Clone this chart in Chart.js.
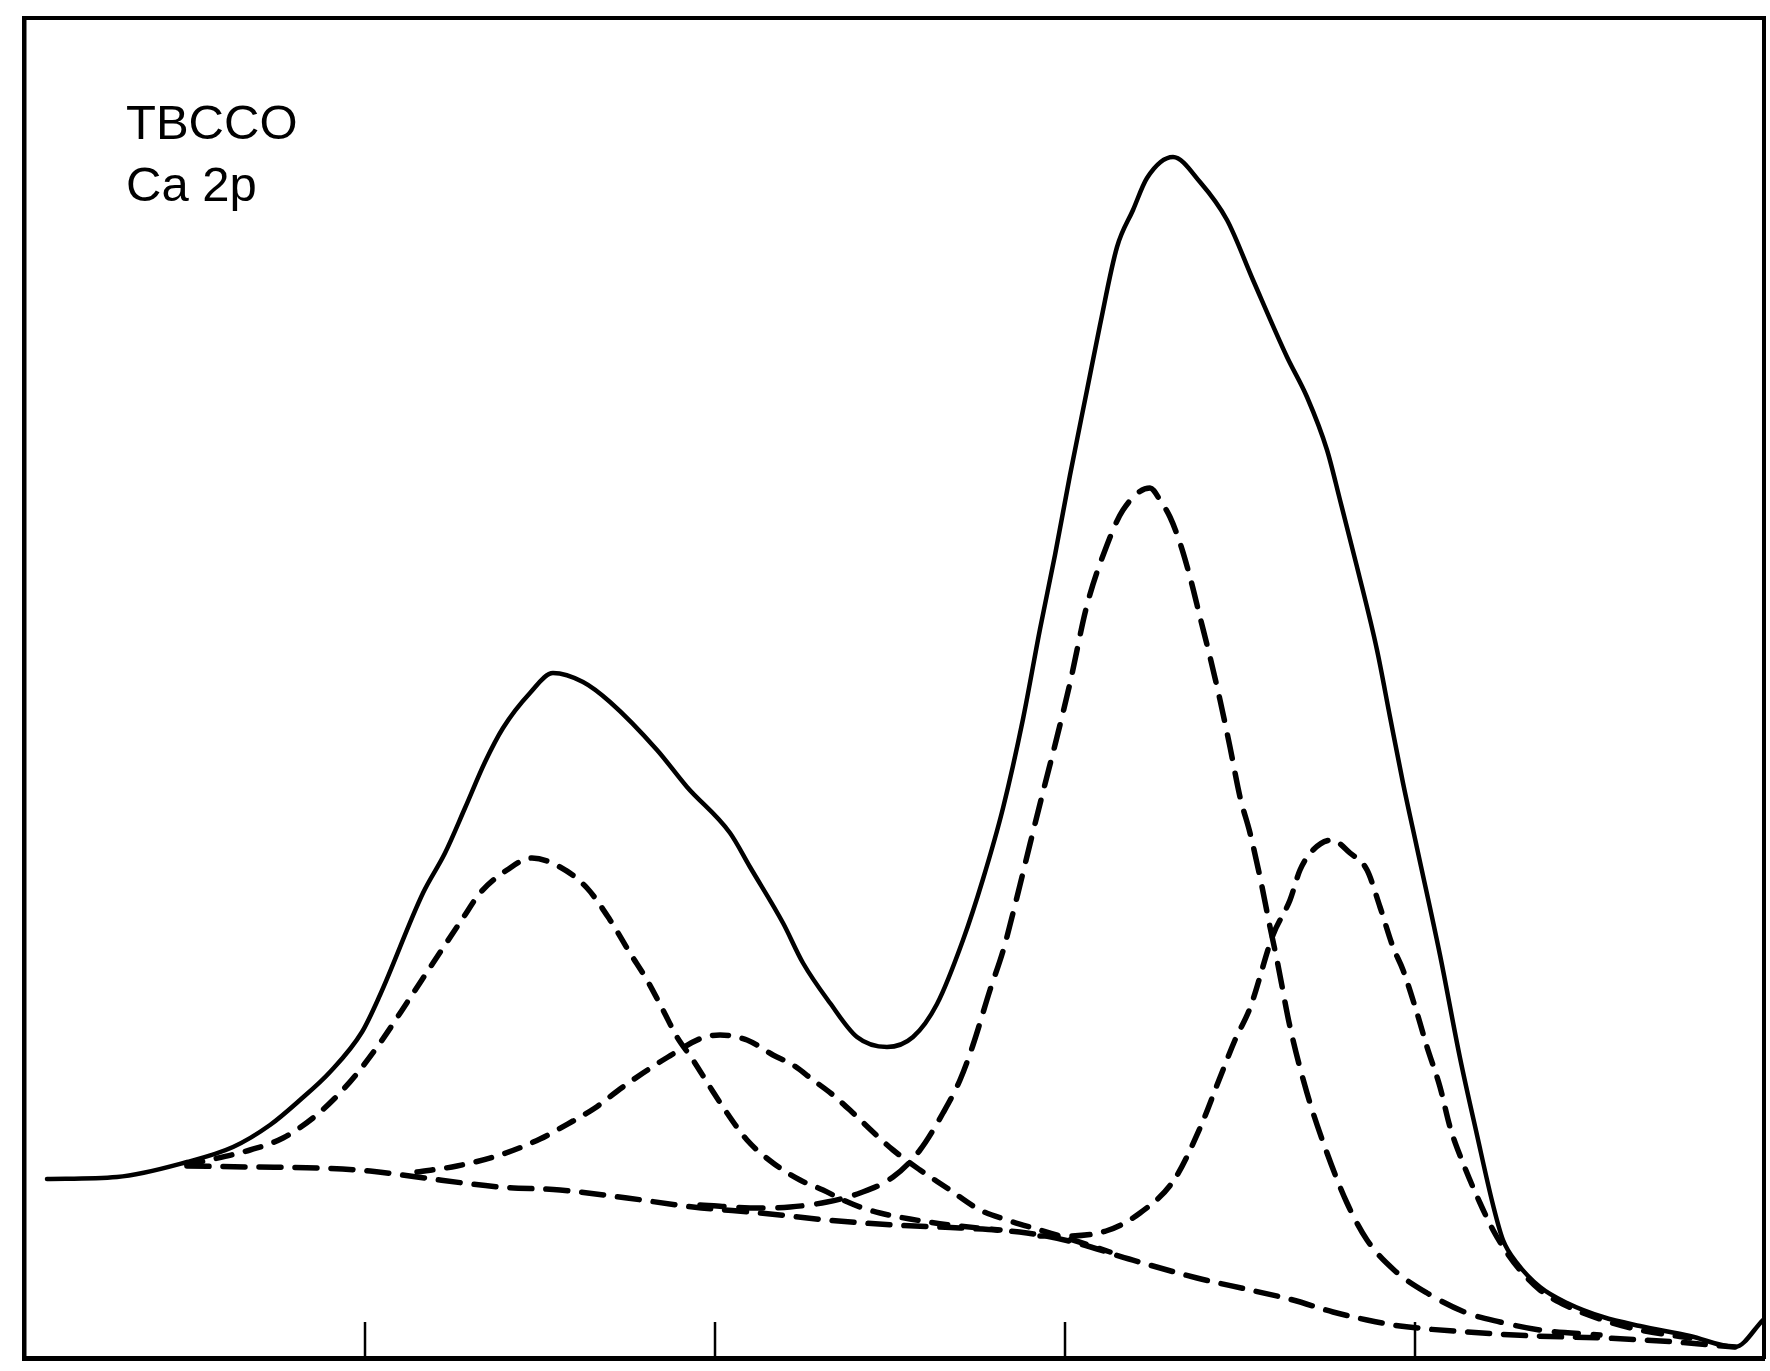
<!DOCTYPE html>
<html>
<head>
<meta charset="utf-8">
<script src="https://cdn.jsdelivr.net/npm/chart.js@4.4.1/dist/chart.umd.min.js"></script>
<style>
  html, body { margin: 0; padding: 0; background: #ffffff; }
  #wrap { width: 1770px; height: 1371px; position: relative; }
  canvas { display: block; }
</style>
</head>
<body>
<div id="wrap"><canvas id="c" width="1770" height="1371"></canvas></div>
<script>
// ---- Data (arbitrary units: x in tick units, y = intensity) ----
const labelLines = ["TBCCO", "Ca 2p"];
const tickValues = [1, 2, 3, 4];

// Measured envelope (solid)
const totalX = [0.0914,0.2914,0.4914,0.6229,0.7286,0.8143,0.9,0.9914,1.0429,1.1657,1.2286,1.2857,1.3429,1.3943,1.4714,1.5371,1.6229,1.7,1.8343,1.92,2.0429,2.1,2.1943,2.2514,2.3286,2.4057,2.4914,2.5657,2.6343,2.7086,2.7657,2.8229,2.88,2.9286,2.9714,3.0143,3.0629,3.1,3.1486,3.1943,3.2343,3.3086,3.3857,3.4629,3.5371,3.6343,3.6914,3.7486,3.7857,3.8343,3.8914,3.9286,3.9657,4.0057,4.0714,4.1286,4.1771,4.2229,4.2514,4.2914,4.3571,4.4343,4.5371,4.6429,4.7857,4.9143,4.9943];
const totalY = [18.2,18.4,19.9,21.4,23.6,26.1,28.9,32.9,36.6,46.8,50.8,55.3,59.9,63.3,66.8,68.8,67.9,65.9,61.1,57.4,52.8,49.4,43.8,39.8,35.8,32.4,31.4,32.4,35.7,42.1,48.2,55.3,64.2,73.2,80.6,88.6,97.1,103.6,111.4,115.1,118.3,120.4,117.9,114.1,108.1,100.4,96.4,91.1,86.1,79.4,71.1,64.4,57.8,51.3,40.6,30.3,22.6,15.6,12.1,9.8,7.4,5.8,4.4,3.5,2.5,1.4,4.1];

// Background (dashed)
const bgX = [0.4914,0.6714,0.8714,1.0143,1.1486,1.3857,1.5571,1.7486,1.9371,2.1286,2.32,2.5086,2.7,2.8914,3.0229,3.1829,3.3771,3.5286,3.6514,3.7657,3.8629,3.9571,4.1486,4.3429,4.5371,4.7429,4.9143];
const bgY = [19.5,19.4,19.3,19.0,18.4,17.4,17.1,16.3,15.4,14.8,14.1,13.6,13.3,12.8,11.9,10.2,8.3,7.1,6.1,4.9,4.1,3.5,2.9,2.5,2.3,1.9,1.4];

// Component 1 (left, large)
const peakAX = [0.4914,0.5286,0.6714,0.7657,0.8514,0.9143,0.9714,1.0429,1.1286,1.1943,1.28,1.3286,1.4057,1.4771,1.5571,1.6343,1.7,1.7571,1.8057,1.8514,1.8914,1.9371,1.9857,2.0343,2.0914,2.1657,2.2429,2.3086,2.3657,2.4143,2.4714,2.5571,2.6714,2.8143];
const peakAY = [19.6,19.9,21.1,22.3,24.3,26.3,28.5,31.8,36.3,39.8,44.3,46.8,49.1,50.3,49.4,47.3,44.1,40.8,38.1,35.1,32.4,30.1,27.4,24.8,22.1,19.8,18.1,17.1,16.1,15.4,14.8,14.2,13.6,13.1];

// Component 2 (left, small)
const peakBX = [1.1486,1.2629,1.3857,1.5,1.5943,1.6571,1.7286,1.7943,1.8657,1.9629,2.0143,2.0914,2.1657,2.2229,2.28,2.3371,2.3943,2.4514,2.5086,2.5857,2.6629,2.7571,2.8343,2.9286,3.0229,3.1286];
const peakBY = [18.9,19.5,20.6,22.2,24.0,25.3,27.2,28.8,30.4,32.3,32.6,32.1,30.6,29.6,28.1,26.6,24.8,22.9,21.1,19.1,17.3,15.1,14.1,13.1,12.1,10.9];

// Component 3 (right, large)
const peakCX = [1.9571,2.1286,2.2143,2.32,2.4143,2.5086,2.5857,2.6514,2.7,2.7371,2.7857,2.8229,2.8629,2.9,2.9371,2.9771,3.0143,3.0629,3.12,3.1657,3.2429,3.2714,3.3,3.3286,3.3571,3.3857,3.4143,3.4429,3.4714,3.5,3.5286,3.5571,3.5857,3.6057,3.6429,3.6914,3.7486,3.8057,3.8629,3.94,4.0343,4.1486,4.2429,4.3571,4.5286];
const peakCY = [15.6,15.3,15.4,15.9,16.8,18.4,21.1,24.8,28.1,31.6,37.1,41.0,46.4,51.7,56.9,62.4,67.8,75.6,81.6,85.1,87.3,86.1,84.4,81.8,78.4,74.4,70.4,66.1,61.4,56.4,52.8,48.4,43.4,40.1,33.4,26.8,20.8,15.8,12.1,9.1,6.8,4.8,3.9,3.1,2.6];

// Component 4 (right, small)
const peakDX = [2.9286,2.9886,3.1171,3.2143,3.3114,3.3857,3.44,3.4857,3.5286,3.5943,3.6429,3.6714,3.7086,3.7629,3.8143,3.8629,3.9,3.9371,3.9657,4.0057,4.0343,4.0714,4.1,4.1371,4.1857,4.2229,4.2629,4.3,4.3571,4.4343,4.5371,4.6429,4.7857];
const peakDY = [12.5,12.5,13.0,14.8,18.1,23.3,28.1,32.1,35.3,42.6,46.1,49.1,51.1,52.1,50.8,49.1,45.4,41.4,39.1,34.8,31.4,27.4,23.4,19.8,15.8,13.1,10.8,9.1,7.1,5.5,4.1,3.1,2.3];

// ---- Axis ranges ----
const X_MIN = 0.0257, X_MAX = 4.9971;
const Y_MIN = 0.3, Y_MAX = 134.3;

function pts(xs, ys) { return xs.map((x, i) => ({ x: x, y: ys[i] })); }

function ds(xs, ys, dash, width) {
  return {
    data: pts(xs, ys),
    showLine: true,
    borderColor: '#000',
    borderWidth: width,
    borderDash: dash,
    borderCapStyle: 'round',
    borderJoinStyle: 'round',
    pointRadius: 0,
    cubicInterpolationMode: 'monotone',
    fill: false
  };
}

const whiteBg = {
  id: 'whiteBg',
  beforeDraw(chart) {
    const c = chart.ctx;
    c.save(); c.fillStyle = '#fff'; c.fillRect(0, 0, chart.width, chart.height); c.restore();
  }
};

const innerTicks = {
  id: 'innerTicks',
  afterDraw(chart) {
    const c = chart.ctx, xs = chart.scales.x, a = chart.chartArea;
    c.save();
    c.strokeStyle = '#000';
    c.lineWidth = 2.5;
    tickValues.forEach(v => {
      const px = xs.getPixelForValue(v);
      c.beginPath(); c.moveTo(px, a.bottom + 1); c.lineTo(px, a.bottom - 36); c.stroke();
    });
    c.restore();
  }
};

const textLabels = {
  id: 'textLabels',
  afterDraw(chart) {
    const c = chart.ctx;
    c.save();
    c.fillStyle = '#000';
    c.font = '49px "Liberation Sans", Arial, sans-serif';
    c.textBaseline = 'alphabetic';
    c.fillText(labelLines[0], 126, 139);
    c.fillText(labelLines[1], 126, 201);
    c.restore();
  }
};

function hiddenScale(extra) {
  return Object.assign({
    type: 'linear',
    ticks: { display: false },
    grid: { display: false, drawTicks: false },
    title: { display: false }
  }, extra);
}

new Chart(document.getElementById('c'), {
  type: 'scatter',
  data: {
    datasets: [
      ds(totalX, totalY, [], 4.5),
      ds(bgX, bgY, [22, 14], 5.5),
      ds(peakAX, peakAY, [16, 14], 5.5),
      ds(peakBX, peakBY, [16, 14], 5.5),
      ds(peakCX, peakCY, [24, 15], 5.5),
      ds(peakDX, peakDY, [18, 14], 5.5)
    ]
  },
  options: {
    responsive: false,
    animation: false,
    events: [],
    layout: { padding: { left: 24, right: 6, top: 18, bottom: 13 } },
    plugins: { legend: { display: false }, tooltip: { enabled: false }, title: { display: false } },
    scales: {
      x: hiddenScale({ position: 'bottom', min: X_MIN, max: X_MAX,
        border: { display: true, color: '#000', width: 5 },
        afterFit: s => { s.height = 0; } }),
      xTop: hiddenScale({ axis: 'x', position: 'top', min: X_MIN, max: X_MAX,
        border: { display: true, color: '#000', width: 4 },
        afterFit: s => { s.height = 0; } }),
      y: hiddenScale({ position: 'left', min: Y_MIN, max: Y_MAX,
        border: { display: true, color: '#000', width: 4.5 },
        afterFit: s => { s.width = 0; } }),
      yRight: hiddenScale({ axis: 'y', position: 'right', min: Y_MIN, max: Y_MAX,
        border: { display: true, color: '#000', width: 4 },
        afterFit: s => { s.width = 0; } })
    }
  },
  plugins: [whiteBg, innerTicks, textLabels]
});
</script>
</body>
</html>
